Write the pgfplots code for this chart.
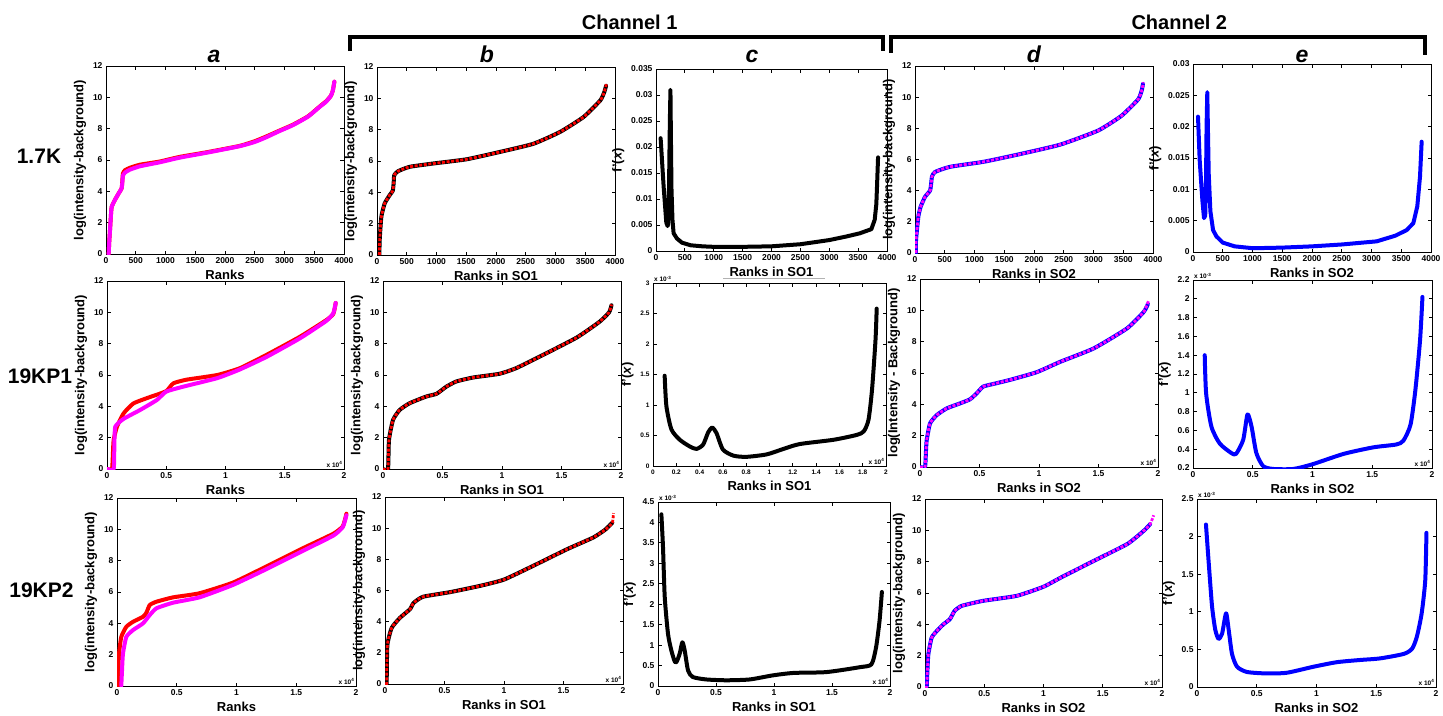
\documentclass[border=0pt]{standalone}
\usepackage{pgfplots}
\pgfplotsset{compat=1.18}
\usepackage{fontspec}
\setmainfont{Liberation Sans}
\definecolor{mred}{RGB}{255,0,0}
\definecolor{mmag}{RGB}{255,0,255}
\definecolor{mblue}{RGB}{0,0,255}
\pgfplotsset{
  mat/.style={
    scale only axis, anchor=north west, no markers,
    axis line style={line width=0.9pt},
    tick style={line width=0.8pt, black},
    major tick length=3.5pt,
    tick align=inside,
    ticklabel style={font=\bfseries\fontsize{8.5}{9}\selectfont},
    /pgf/number format/assume math mode=true,
    /pgf/number format/1000 sep={},
    /pgf/number format/fixed,
    label style={font=\bfseries\fontsize{13}{14}\selectfont},
    scaled ticks=false,
    every axis plot/.append style={line join=round, line cap=round},
  },
  sm/.style={every axis plot/.append style={smooth, tension=0.3}},
  logp/.style={sm, ymin=0,ymax=12,ytick={0,2,...,12}, ylabel={log(intensity-background)}},
  k4/.style={xmin=0,xmax=4000,xtick={0,500,...,4000}},
  k2/.style={xmin=0,xmax=2,xtick={0,0.5,...,2}},
  fp/.style={ylabel={f'(\textit{x})}},
  xe4/.style={after end axis/.append code={\node[anchor=south east, inner sep=1.5pt, font=\bfseries\fontsize{6.5}{7}\selectfont] at (rel axis cs:1,0) {x 10\textsuperscript{4}};}},
  ye3/.style={after end axis/.append code={\node[anchor=south west, inner sep=1pt, font=\bfseries\fontsize{6.5}{7}\selectfont] at (rel axis cs:0,1) {x 10\textsuperscript{-3}};}},
  thickl/.style={line width=4pt},
  dashr/.style={mred, line width=2.8pt, dash pattern=on 3pt off 1.6pt, line cap=butt},
  dashm/.style={mmag, line width=2.8pt, dash pattern=on 3pt off 1.6pt, line cap=butt},
}
\begin{document}
\begin{tikzpicture}
\useasboundingbox (0,0) rectangle (1443pt,-715pt);
% headers
\draw[line width=4pt] (350pt,-51pt) -- (350pt,-36.5pt) -- (883pt,-36.5pt) -- (883pt,-51pt);
\draw[line width=4pt] (891pt,-53pt) -- (891pt,-36.5pt) -- (1425pt,-36.5pt) -- (1425pt,-55pt);
\node[anchor=base east, font=\bfseries\fontsize{20}{22}\selectfont] at (681pt,-29pt) {Channel 1};
\node[anchor=base west, font=\bfseries\fontsize{20}{22}\selectfont] at (1128pt,-29pt) {Channel 2};
\foreach \l/\x in {a/214,b/487,c/752,d/1034,e/1302}
  \node[anchor=base, font=\bfseries\itshape\fontsize{23}{25}\selectfont] at (\x pt,-62pt) {\l};
\node[anchor=base, font=\bfseries\fontsize{21}{23}\selectfont] at (39pt,-163pt) {1.7K};
\node[anchor=base, font=\bfseries\fontsize{21}{23}\selectfont] at (40pt,-383pt) {19KP1};
\node[anchor=base, font=\bfseries\fontsize{21}{23}\selectfont] at (41.5pt,-597pt) {19KP2};
\draw[gray!60, line width=0.7pt] (723pt,-278pt) -- (825pt,-278pt);

% ================= ROW 1 =================
\begin{axis}[mat, k4, logp, at={(106pt,-66pt)}, width=238pt, height=188pt, xlabel={Ranks}]
\addplot[mred, thickl] coordinates {(45,0)(55,0.8)(67,1.5)(80,2.3)(95,3.0)(150,3.45)(210,3.85)(263,4.2)(275,4.7)(285,5.15)(320,5.35)(400,5.5)(570,5.7)(900,5.9)(1240,6.2)(1700,6.5)(2246,6.9)(2500,7.2)(2693,7.5)(2900,7.85)(3140,8.25)(3400,8.8)(3587,9.4)(3700,9.75)(3780,10.1)(3810,10.4)(3830,10.8)(3838,11.0)};
\addplot[mmag, thickl] coordinates {(45,0)(55,0.8)(67,1.5)(80,2.3)(95,3.0)(150,3.45)(210,3.85)(263,4.2)(275,4.6)(285,5.0)(320,5.2)(400,5.38)(570,5.6)(900,5.85)(1240,6.15)(1700,6.47)(2246,6.88)(2500,7.15)(2693,7.45)(2900,7.82)(3140,8.22)(3400,8.78)(3587,9.38)(3700,9.72)(3780,10.1)(3810,10.4)(3830,10.8)(3838,11.0)};
\end{axis}

\begin{axis}[mat, k4, logp, at={(377pt,-67pt)}, width=238pt, height=188pt, xlabel={Ranks in SO1}]
\addplot[black, thickl] coordinates {(40,0)(45,0.96)(73,2.44)(129,3.29)(213,3.82)(265,4.1)(280,4.6)(290,5.1)(354,5.35)(550,5.63)(944,5.84)(1506,6.11)(2067,6.58)(2629,7.1)(3079,7.86)(3472,8.81)(3753,9.87)(3820,10.4)(3850,10.8)};
\addplot[dashr] coordinates {(40,0)(45,0.96)(73,2.44)(129,3.29)(213,3.82)(265,4.1)(280,4.6)(290,5.1)(354,5.35)(550,5.63)(944,5.84)(1506,6.11)(2067,6.58)(2629,7.1)(3079,7.86)(3472,8.81)(3753,9.87)(3820,10.4)(3854,10.9)};
\end{axis}

\begin{axis}[mat, k4, fp, at={(656pt,-69pt)}, width=231pt, height=182pt, xlabel={Ranks in SO1},
  ymin=0, ymax=0.035, ytick={0,0.005,...,0.035}, yticklabel style={/pgf/number format/precision=3}]
\addplot[black, thickl] coordinates {(80,0.0217)(132,0.0124)(178,0.0055)(200,0.0048)(210,0.0052)(225,0.012)(240,0.025)(250,0.031)(258,0.022)(268,0.012)(285,0.006)(305,0.0034)(363,0.0024)(450,0.0016)(600,0.0011)(800,0.0009)(1000,0.0008)(1500,0.0008)(2000,0.0009)(2500,0.0013)(3000,0.0021)(3300,0.0028)(3528,0.0034)(3729,0.0042)(3787,0.006)(3815,0.009)(3827,0.0124)(3845,0.018)};
\end{axis}

\begin{axis}[mat, k4, logp, at={(915pt,-66pt)}, width=238pt, height=187pt, xlabel={Ranks in SO2}]
\addplot[mblue, thickl] coordinates {(15,0)(17,0.83)(56,2.33)(95,2.97)(168,3.6)(252,4.0)(270,4.4)(285,4.9)(336,5.2)(588,5.53)(1148,5.85)(1709,6.3)(2437,6.95)(3079,7.86)(3472,8.81)(3753,9.87)(3815,10.5)(3830,10.85)};
\addplot[dashm] coordinates {(15,0)(17,0.83)(56,2.33)(95,2.97)(168,3.6)(252,4.0)(270,4.4)(285,4.9)(336,5.2)(588,5.53)(1148,5.85)(1709,6.3)(2437,6.95)(3079,7.86)(3472,8.81)(3753,9.87)(3815,10.5)(3838,10.95)};
\end{axis}

\begin{axis}[mat, k4, fp, at={(1193pt,-64pt)}, width=238pt, height=188pt, xlabel={Ranks in SO2},
  ymin=0, ymax=0.03, ytick={0,0.005,...,0.03}, yticklabel style={/pgf/number format/precision=3}]
\addplot[mblue, thickl] coordinates {(84,0.0216)(112,0.0147)(157,0.0083)(185,0.0054)(205,0.0058)(218,0.011)(228,0.02)(240,0.0255)(250,0.02)(264,0.0125)(292,0.0065)(337,0.0035)(393,0.0025)(500,0.0015)(700,0.0009)(1008,0.0006)(1500,0.0007)(2000,0.0009)(2500,0.0012)(3087,0.0017)(3400,0.0026)(3591,0.0035)(3703,0.0046)(3770,0.0073)(3815,0.012)(3843,0.0176)};
\end{axis}

% ================= ROW 2 =================
\begin{axis}[mat, k2, logp, xe4, at={(107pt,-281pt)}, width=237pt, height=188pt, xlabel={Ranks}]
\addplot[mred, thickl] coordinates {(0,0)(0.042,0)(0.05,1.0)(0.056,1.85)(0.084,2.7)(0.14,3.55)(0.224,4.19)(0.365,4.6)(0.45,4.82)(0.505,5.0)(0.56,5.47)(0.67,5.7)(0.93,6.0)(1.12,6.43)(1.35,7.3)(1.63,8.45)(1.85,9.5)(1.91,9.9)(1.93,10.6)};
\addplot[mmag, thickl] coordinates {(0,0)(0.056,0)(0.062,1.5)(0.07,2.7)(0.14,3.2)(0.28,3.77)(0.42,4.4)(0.5,4.94)(0.645,5.26)(0.93,5.8)(1.12,6.35)(1.35,7.17)(1.63,8.35)(1.85,9.45)(1.91,9.95)(1.93,10.6)};
\end{axis}

\begin{axis}[mat, k2, logp, xe4, at={(383pt,-281pt)}, width=238pt, height=188pt, xlabel={Ranks in SO1}]
\addplot[black, thickl] coordinates {(0,0)(0.042,0)(0.05,1.85)(0.084,3.13)(0.14,3.77)(0.224,4.2)(0.365,4.63)(0.45,4.8)(0.533,5.26)(0.617,5.59)(0.757,5.84)(0.98,6.08)(1.12,6.44)(1.35,7.3)(1.63,8.4)(1.82,9.4)(1.9,10.0)(1.92,10.45)};
\addplot[dashr] coordinates {(0,0)(0.042,0)(0.05,1.85)(0.084,3.13)(0.14,3.77)(0.224,4.2)(0.365,4.63)(0.45,4.8)(0.533,5.26)(0.617,5.59)(0.757,5.84)(0.98,6.08)(1.12,6.44)(1.35,7.3)(1.63,8.4)(1.82,9.4)(1.9,10.0)(1.92,10.5)};
\end{axis}

\begin{axis}[mat, fp, xe4, ye3, at={(653pt,-283pt)}, width=233pt, height=183pt, xlabel={Ranks in SO1},
  xmin=0, xmax=2, xtick={0,0.2,...,2}, ymin=0, ymax=3, ytick={0,0.5,...,3},
  ticklabel style={font=\bfseries\fontsize{6.5}{7}\selectfont}]
\addplot[black, thickl, smooth, tension=0.4] coordinates {(0.1,1.48)(0.115,0.98)(0.158,0.6)(0.23,0.43)(0.316,0.32)(0.373,0.28)(0.43,0.35)(0.473,0.55)(0.508,0.63)(0.545,0.54)(0.6,0.27)(0.69,0.17)(0.8,0.15)(0.975,0.19)(1.12,0.28)(1.26,0.36)(1.55,0.43)(1.75,0.51)(1.81,0.57)(1.85,0.76)(1.88,1.25)(1.91,2.07)(1.92,2.58)};
\end{axis}

\begin{axis}[mat, k2, sm, xe4, at={(920pt,-279pt)}, width=238pt, height=188pt, xlabel={Ranks in SO2},
  ymin=0,ymax=12,ytick={0,2,...,12}, ylabel={log(Intensity - Background)}]
\addplot[mblue, thickl] coordinates {(0,0)(0.042,0)(0.05,1.0)(0.056,1.7)(0.084,2.78)(0.14,3.31)(0.224,3.74)(0.336,4.06)(0.42,4.32)(0.476,4.7)(0.53,5.13)(0.616,5.3)(0.756,5.56)(0.98,6.05)(1.18,6.72)(1.46,7.57)(1.74,8.85)(1.88,9.9)(1.915,10.4)};
\addplot[dashm] coordinates {(0,0)(0.042,0)(0.05,1.0)(0.056,1.7)(0.084,2.78)(0.14,3.31)(0.224,3.74)(0.336,4.06)(0.42,4.32)(0.476,4.7)(0.53,5.13)(0.616,5.3)(0.756,5.56)(0.98,6.05)(1.18,6.72)(1.46,7.57)(1.74,8.85)(1.88,9.9)(1.92,10.6)};
\end{axis}

\begin{axis}[mat, k2, fp, xe4, ye3, at={(1193pt,-280pt)}, width=239pt, height=188pt, xlabel={Ranks in SO2},
  ymin=0.2, ymax=2.2, ytick={0.2,0.4,...,2.2}]
\addplot[mblue, thickl, smooth, tension=0.4] coordinates {(0.098,1.4)(0.11,0.99)(0.154,0.64)(0.224,0.46)(0.32,0.36)(0.36,0.35)(0.42,0.5)(0.456,0.77)(0.49,0.64)(0.53,0.36)(0.587,0.22)(0.67,0.19)(0.84,0.19)(1.0,0.24)(1.26,0.35)(1.51,0.42)(1.7,0.45)(1.76,0.49)(1.82,0.66)(1.86,1.02)(1.9,1.56)(1.92,2.02)};
\end{axis}

% ================= ROW 3 =================
\begin{axis}[mat, k2, logp, xe4, at={(117pt,-498pt)}, width=239pt, height=188pt, xlabel={Ranks}]
\addplot[mred, thickl] coordinates {(0.008,0)(0.012,1.0)(0.017,2.07)(0.036,3.14)(0.078,3.78)(0.134,4.1)(0.218,4.42)(0.246,4.68)(0.274,5.17)(0.33,5.38)(0.47,5.66)(0.69,5.92)(0.97,6.6)(1.25,7.63)(1.53,8.7)(1.81,9.72)(1.89,10.2)(1.92,11.0)};
\addplot[mmag, thickl] coordinates {(0.036,0)(0.042,1.0)(0.05,2.07)(0.078,3.14)(0.134,3.57)(0.218,4.0)(0.274,4.53)(0.33,4.96)(0.47,5.32)(0.69,5.66)(0.97,6.45)(1.25,7.46)(1.53,8.53)(1.81,9.6)(1.89,10.15)(1.92,10.9)};
\end{axis}

\begin{axis}[mat, k2, logp, xe4, at={(385pt,-497pt)}, width=238pt, height=187pt, xlabel={Ranks in SO1}]
\addplot[black, thickl] coordinates {(0.012,0)(0.014,0.1)(0.02,2.5)(0.056,3.6)(0.126,4.25)(0.21,4.8)(0.24,5.2)(0.32,5.6)(0.55,5.9)(0.8,6.3)(1.0,6.7)(1.25,7.6)(1.53,8.65)(1.75,9.4)(1.85,9.9)(1.91,10.35)};
\addplot[dashr] coordinates {(0.012,0)(0.014,0.1)(0.02,2.5)(0.056,3.6)(0.126,4.25)(0.21,4.8)(0.24,5.2)(0.32,5.6)(0.55,5.9)(0.8,6.3)(1.0,6.7)(1.25,7.6)(1.53,8.65)(1.75,9.4)(1.85,9.9)(1.91,10.35)(1.92,10.97)};
\end{axis}

\begin{axis}[mat, k2, fp, xe4, ye3, at={(658pt,-502pt)}, width=232pt, height=184pt, xlabel={Ranks in SO1},
  ymin=0, ymax=4.5, ytick={0,0.5,...,4.5}]
\addplot[black, thickl, smooth, tension=0.4] coordinates {(0.029,4.2)(0.043,3.4)(0.058,2.18)(0.086,1.28)(0.115,0.87)(0.144,0.6)(0.16,0.59)(0.187,0.79)(0.21,1.07)(0.23,0.87)(0.259,0.38)(0.3,0.22)(0.417,0.16)(0.59,0.14)(0.79,0.16)(0.99,0.26)(1.17,0.32)(1.45,0.34)(1.74,0.46)(1.84,0.53)(1.88,0.95)(1.91,1.6)(1.93,2.3)};
\end{axis}

\begin{axis}[mat, k2, logp, xe4, at={(925pt,-499pt)}, width=237pt, height=188pt, xlabel={Ranks in SO2}]
\addplot[mblue, thickl] coordinates {(0,0)(0.014,0)(0.02,1.0)(0.028,2.08)(0.056,3.15)(0.1,3.58)(0.155,4.0)(0.21,4.33)(0.25,4.86)(0.31,5.18)(0.49,5.5)(0.775,5.82)(1.0,6.4)(1.15,7.0)(1.43,8.07)(1.71,9.14)(1.85,10.0)(1.9,10.4)};
\addplot[dashm] coordinates {(0,0)(0.014,0)(0.02,1.0)(0.028,2.08)(0.056,3.15)(0.1,3.58)(0.155,4.0)(0.21,4.33)(0.25,4.86)(0.31,5.18)(0.49,5.5)(0.775,5.82)(1.0,6.4)(1.15,7.0)(1.43,8.07)(1.71,9.14)(1.85,10.0)(1.9,10.4)(1.93,10.96)};
\end{axis}

\begin{axis}[mat, k2, fp, xe4, ye3, at={(1197pt,-499pt)}, width=239pt, height=188pt, xlabel={Ranks in SO2},
  ymin=0, ymax=2.5, ytick={0,0.5,...,2.5}]
\addplot[mblue, thickl, smooth, tension=0.4] coordinates {(0.075,2.16)(0.098,1.65)(0.126,1.07)(0.153,0.76)(0.18,0.64)(0.21,0.71)(0.243,0.98)(0.265,0.76)(0.293,0.44)(0.335,0.27)(0.418,0.2)(0.586,0.18)(0.753,0.19)(0.976,0.27)(1.17,0.33)(1.37,0.36)(1.53,0.38)(1.73,0.44)(1.8,0.51)(1.84,0.67)(1.88,0.98)(1.91,1.42)(1.92,2.05)};
\end{axis}
\end{tikzpicture}
\end{document}
